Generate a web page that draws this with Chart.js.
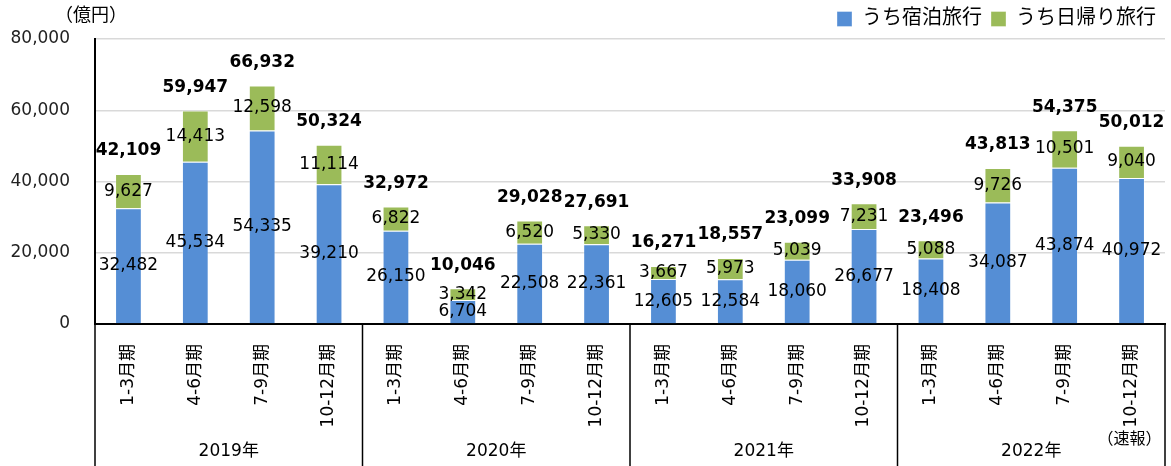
<!DOCTYPE html>
<html>
<head>
<meta charset="utf-8">
<script src="https://cdn.jsdelivr.net/npm/chart.js@4"></script>
<style>
  body { margin: 0; background: #fff; }
  #wrap { width: 1171px; height: 466px; }
</style>
</head>
<body>
<div id="wrap"><canvas id="myChart"></canvas></div>
<script>
// 四半期ラベルと年
const quarters = ["1-3月期", "4-6月期", "7-9月期", "10-12月期",
                  "1-3月期", "4-6月期", "7-9月期", "10-12月期",
                  "1-3月期", "4-6月期", "7-9月期", "10-12月期",
                  "1-3月期", "4-6月期", "7-9月期", "10-12月期"];
const years = ["2019年", "2020年", "2021年", "2022年"];

const shukuhaku = [32482, 45534, 54335, 39210, 26150, 6704, 22508, 22361,
                   12605, 12584, 18060, 26677, 18408, 34087, 43874, 40972];
const higaeri = [9627, 14413, 12598, 11114, 6822, 3342, 6520, 5330,
                 3667, 5973, 5039, 7231, 5088, 9726, 10501, 9040];
const totals = [42109, 59947, 66932, 50324, 32972, 10046, 29028, 27691,
                16271, 18557, 23099, 33908, 23496, 43813, 54375, 50012];

const FONT = "'DejaVu Sans', 'Noto Sans CJK JP', sans-serif";

function fmt(v) { return v.toLocaleString("en-US"); }

const labelPlugin = {
  id: "labels",
  afterDatasetsDraw(chart) {
    const ctx = chart.ctx;
    const y = chart.scales.y;
    ctx.save();
    ctx.textAlign = "center";
    ctx.textBaseline = "middle";
    ctx.fillStyle = "#000";
    ctx.font = "17px " + FONT;
    chart.data.datasets.forEach((ds, i) => {
      chart.getDatasetMeta(i).data.forEach((bar, j) => {
        ctx.fillText(fmt(ds.data[j]), bar.x, (bar.y + bar.base) / 2);
      });
    });
    ctx.font = "bold 17px " + FONT;
    const meta = chart.getDatasetMeta(0);
    totals.forEach((t, j) => {
      ctx.fillText(fmt(t), meta.data[j].x, y.getPixelForValue(t) - 23);
    });
    ctx.restore();
  },
  afterDraw(chart) {
    const ctx = chart.ctx;
    const x = chart.scales.x;
    const area = chart.chartArea;
    const h = chart.height;
    ctx.save();
    ctx.strokeStyle = "#000";
    ctx.lineWidth = 1.5;
    // 年の区切り線
    const per = quarters.length / years.length;
    for (let g = 0; g <= years.length; g++) {
      let px;
      if (g == 0) px = area.left;
      else if (g == years.length) px = area.right;
      else px = (x.getPixelForValue(g * per - 1) + x.getPixelForValue(g * per)) / 2;
      ctx.beginPath();
      ctx.moveTo(px, area.bottom);
      ctx.lineTo(px, h);
      ctx.stroke();
    }
    ctx.fillStyle = "#000";
    ctx.font = "17px " + FONT;
    ctx.textAlign = "center";
    ctx.textBaseline = "middle";
    years.forEach((yr, g) => {
      const a = x.getPixelForValue(g * per);
      const b = x.getPixelForValue(g * per + per - 1);
      ctx.fillText(yr, (a + b) / 2, 452);
    });
    ctx.font = "16px " + FONT;
    ctx.fillText("（速報）", x.getPixelForValue(quarters.length - 1) - 2, 440);
    ctx.font = "18px " + FONT;
    ctx.fillText("（億円）", 91, 16);
    ctx.restore();
  }
};

const ctx = document.getElementById("myChart");
new Chart(ctx, {
  type: "bar",
  data: {
    labels: quarters,
    datasets: [
      {
        label: "うち宿泊旅行",
        data: shukuhaku,
        backgroundColor: "#558ED5",
        borderColor: "rgba(255,255,255,0.35)",
        borderWidth: 1
      }, {
        label: "うち日帰り旅行",
        data: higaeri,
        backgroundColor: "#9BBB59",
        borderColor: "rgba(255,255,255,0.35)",
        borderWidth: 1
      }
    ]
  },
  options: {
    responsive: true,
    maintainAspectRatio: false,
    animation: false,
    layout: { padding: { left: 0, right: 6, top: 0, bottom: 0 } },
    datasets: { bar: { barPercentage: 0.8, categoryPercentage: 0.5 } },
    plugins: {
      legend: {
        position: "top",
        align: "end",
        labels: {
          boxWidth: 15,
          boxHeight: 15,
          padding: 9,
          color: "#000",
          font: { size: 20, family: FONT }
        }
      },
      tooltip: { enabled: false }
    },
    scales: {
      x: {
        stacked: true,
        grid: { display: false },
        border: { color: "#000", width: 2 },
        ticks: {
          color: "#000",
          minRotation: 90,
          maxRotation: 90,
          padding: 12,
          font: { size: 17, family: FONT }
        },
        afterFit(scale) { scale.height = 142; }
      },
      y: {
        stacked: true,
        min: 0,
        max: 80000,
        grid: { color: "#D9D9D9", lineWidth: 1.5, drawTicks: false },
        border: { color: "#000", width: 2 },
        ticks: {
          stepSize: 20000,
          color: "#222",
          padding: 25,
          font: { size: 17, family: FONT },
          callback: (v) => fmt(v)
        },
        afterFit(scale) { scale.width = 95; }
      }
    }
  },
  plugins: [labelPlugin]
});
</script>
</body>
</html>
